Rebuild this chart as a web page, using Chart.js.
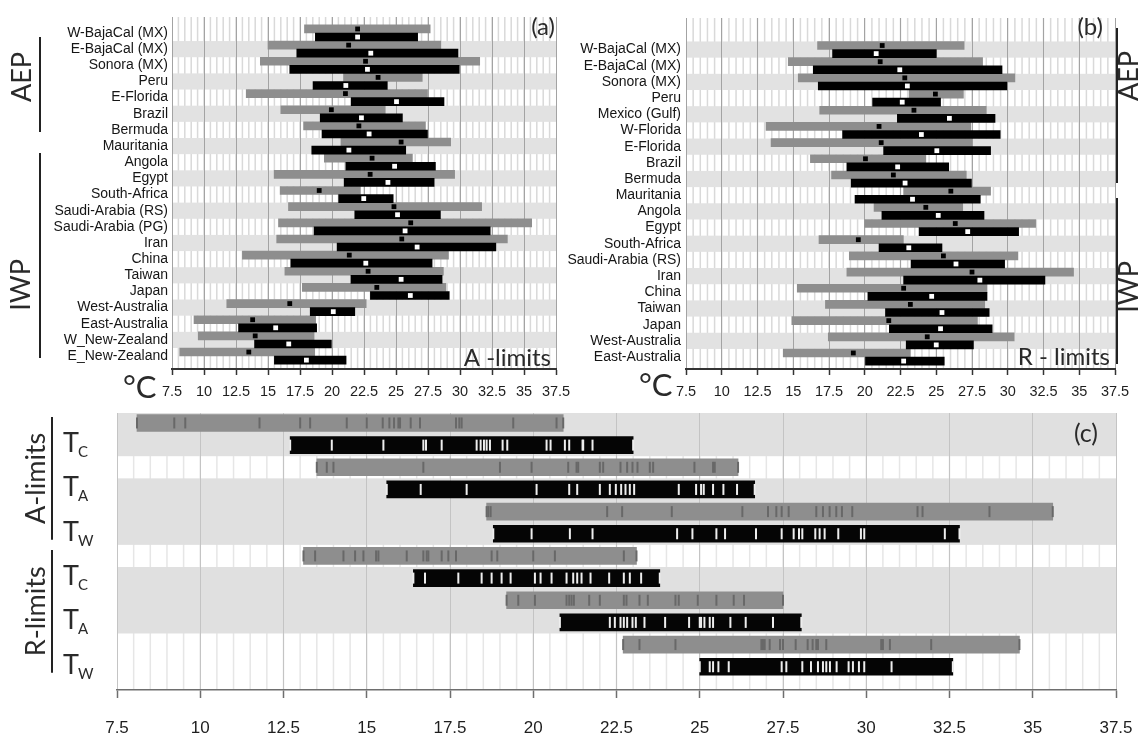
<!DOCTYPE html>
<html>
<head>
<meta charset="utf-8">
<title>Temperature limits</title>
<script src="https://cdn.jsdelivr.net/npm/chart.js@4.4.1/dist/chart.umd.min.js"></script>
<style>
  html, body { margin: 0; padding: 0; background: #fff; }
  #wrap { position: relative; width: 1138px; height: 741px; overflow: hidden; background: #fff; }
  #wrap canvas { position: absolute; }
</style>
</head>
<body>
<div id="wrap">
  <canvas id="chartA" width="570" height="405" style="left:0;top:0"></canvas>
  <canvas id="chartB" width="618" height="405" style="left:520px;top:0"></canvas>
  <canvas id="chartC" width="1138" height="336" style="left:0;top:405px"></canvas>
</div>
<script>
// --- 1. DATA: panel (a), A-limits per region (deg C) ---
const regionsA = ['W-BajaCal (MX)', 'E-BajaCal (MX)', 'Sonora (MX)', 'Peru', 'E-Florida', 'Brazil', 'Bermuda',
  'Mauritania', 'Angola', 'Egypt', 'South-Africa', 'Saudi-Arabia (RS)', 'Saudi-Arabia (PG)', 'Iran', 'China',
  'Taiwan', 'Japan', 'West-Australia', 'East-Australia', 'W_New-Zealand', 'E_New-Zealand'];
const grayLoA    = [17.85, 15.0, 14.4, 20.9, 13.3, 16.0, 17.78, 20.7, 19.4, 15.48, 15.95, 16.6, 15.82, 15.68, 13.0, 16.32, 17.68, 11.78, 9.22, 9.55, 8.1];
const grayHiA    = [27.67, 28.5, 31.54, 27.05, 27.46, 24.16, 27.3, 29.27, 26.28, 29.58, 22.22, 31.69, 35.6, 33.7, 29.1, 28.7, 28.9, 22.67, 18.72, 18.6, 18.65];
const grayMarkA  = [22.0, 21.3, 22.62, 23.6, 21.05, 19.95, 22.1, 25.4, 23.13, 22.98, 19.0, 24.84, 26.15, 25.45, 21.35, 22.82, 23.5, 16.7, 13.8, 14.0, 13.5];
const blackLoA   = [18.7, 17.25, 16.7, 18.52, 21.5, 19.08, 19.22, 18.42, 21.08, 20.95, 20.52, 21.78, 18.6, 20.4, 16.78, 21.48, 23.0, 18.3, 12.7, 13.95, 15.5];
const blackHiA   = [26.69, 29.84, 29.94, 24.32, 28.75, 25.5, 27.46, 25.76, 28.08, 27.98, 24.78, 28.47, 32.36, 32.8, 27.82, 28.6, 29.16, 21.78, 18.8, 19.95, 21.1];
const whiteMarkA = [22.0, 23.03, 22.77, 21.08, 25.04, 22.3, 22.9, 21.32, 24.89, 24.37, 22.48, 25.12, 25.71, 26.65, 22.64, 25.4, 26.12, 20.1, 15.6, 16.62, 18.0];

// --- 2. DATA: panel (b), R-limits per region (deg C) ---
const regionsB = ['W-BajaCal (MX)', 'E-BajaCal (MX)', 'Sonora (MX)', 'Peru', 'Mexico (Gulf)', 'W-Florida', 'E-Florida',
  'Brazil', 'Bermuda', 'Mauritania', 'Angola', 'Egypt', 'South-Africa', 'Saudi-Arabia (RS)', 'Iran', 'China',
  'Taiwan', 'Japan', 'West-Australia', 'East-Australia'];
const grayLoB    = [16.7, 14.65, 15.35, 23.1, 16.85, 13.1, 13.45, 16.2, 17.68, 22.72, 20.65, 20.0, 16.8, 18.92, 18.75, 15.28, 17.25, 14.9, 17.45, 14.3];
const grayHiB    = [26.95, 28.24, 30.5, 26.9, 28.5, 27.41, 27.5, 24.27, 27.1, 28.8, 26.85, 31.95, 22.7, 30.71, 34.6, 28.55, 28.39, 27.88, 30.45, 23.19];
const grayMarkB  = [21.22, 21.08, 22.8, 24.94, 23.44, 21.0, 21.15, 20.05, 22.0, 26.02, 24.27, 26.33, 19.55, 25.5, 27.5, 22.72, 23.19, 21.68, 24.37, 19.2];
const blackLoB   = [17.75, 16.4, 16.75, 20.55, 22.28, 18.45, 21.32, 18.75, 19.05, 19.32, 21.2, 23.8, 21.0, 23.24, 22.72, 20.22, 21.45, 21.72, 22.9, 20.05];
const blackHiB   = [25.0, 29.6, 29.94, 25.3, 29.11, 29.47, 28.8, 25.87, 27.46, 28.08, 28.34, 30.76, 25.4, 29.78, 32.6, 28.55, 28.7, 28.91, 27.6, 25.56];
const whiteMarkB = [20.8, 22.45, 22.98, 22.62, 25.92, 23.96, 25.04, 22.3, 22.82, 23.34, 25.14, 27.2, 23.08, 26.38, 28.05, 24.68, 25.4, 25.3, 25.0, 22.72];

// --- 3. DATA: axes ---
const tempTicks = [7.5, 10, 12.5, 15, 17.5, 20, 22.5, 25, 27.5, 30, 32.5, 35, 37.5];
const limitSets = ['A-limits', 'R-limits'];
const limitVars = ['C', 'A', 'W'];

// panel (c): per limit set, TC / TA / TW as gray (range) and black (core) rows
const limitRows = [grayLoA, blackLoA, grayMarkA, whiteMarkA, grayHiA, blackHiA,
                   grayLoB, blackLoB, grayMarkB, whiteMarkB, grayHiB, blackHiB];

// --- 4. HELPERS ---
const NARROW = "'Liberation Sans Narrow', 'Arial Narrow', 'Liberation Sans', sans-serif";
const SANS = "'Liberation Sans', Arial, sans-serif";
const SOFT = "Lato, 'Open Sans', sans-serif";
const GRAY = '#8e8e8e';

const rowBars = (lo, hi, off) => lo.map((v, i) => ({ x: [v, hi[i]], y: i + off }));
const rowPts = (vals, off) => vals.map((v, i) => ({ x: v, y: i + off }));

function text(ctx, s, x, y, size, align, rot) {
  ctx.save();
  ctx.translate(x, y);
  if (rot) ctx.rotate(rot);
  ctx.font = size + 'px ' + SOFT;
  ctx.fillStyle = '#2a2a2a';
  ctx.textAlign = align || 'left';
  ctx.textBaseline = rot ? 'middle' : 'alphabetic';
  ctx.fillText(s, 0, 0);
  ctx.restore();
}
function vline(ctx, x, y0, y1) {
  ctx.save();
  ctx.strokeStyle = '#222';
  ctx.lineWidth = 2;
  ctx.beginPath(); ctx.moveTo(x, y0); ctx.lineTo(x, y1); ctx.stroke();
  ctx.restore();
}

// light bands + half-degree hatch behind the grid
function makeBackdrop(bands, hatch, bandColor) {
  return {
    id: 'backdrop',
    beforeDraw(chart) {
      const { ctx, chartArea: a, scales: { x, y } } = chart;
      ctx.save();
      ctx.beginPath(); ctx.rect(a.left, a.top, a.right - a.left, a.bottom - a.top); ctx.clip();
      ctx.strokeStyle = hatch; ctx.lineWidth = 1.5;
      for (let v = x.min + 0.5; v < x.max; v += 0.5) {
        const px = x.getPixelForValue(v);
        ctx.beginPath(); ctx.moveTo(px, a.top); ctx.lineTo(px, a.bottom); ctx.stroke();
      }
      ctx.fillStyle = bandColor;
      bands.forEach(([from, to]) => {
        const y0 = y.getPixelForValue(from), y1 = y.getPixelForValue(to);
        ctx.fillRect(a.left, y0, a.right - a.left, y1 - y0);
      });
      ctx.restore();
    }
  };
}

function tempAxis(height, size, family, gridColor, tickLen, pad, borderColor, borderWidth) {
  return {
    type: 'linear', offset: false, min: tempTicks[0], max: tempTicks[tempTicks.length - 1],
    afterBuildTicks: s => { s.ticks = tempTicks.map(v => ({ value: v })); },
    // end labels may overhang the plot; keep the plot edges where the layout puts them
    afterFit: s => { s.height = height; s.paddingLeft = 0; s.paddingRight = 0; },
    ticks: { autoSkip: false, maxRotation: 0, padding: pad, color: '#1e1e1e',
             font: { family, size }, callback: v => String(v) },
    grid: { offset: false, color: gridColor, lineWidth: 1, tickColor: borderColor, tickLength: tickLen, tickWidth: 1.5 },
    border: { color: borderColor, width: borderWidth }
  };
}

function rowAxis(names, min, max, width, pad) {
  return {
    type: 'linear', offset: false, reverse: true, min, max,
    afterBuildTicks: s => { s.ticks = names.map((n, i) => ({ value: i })); },
    afterFit: s => { s.width = width; s.paddingTop = 0; s.paddingBottom = 0; },
    ticks: { display: names.length > 0, autoSkip: false, padding: pad, color: '#151515',
             font: { family: SANS, size: 14 }, callback: v => names[v] || '' },
    grid: { display: false, drawTicks: false, offset: false },
    border: { display: false }
  };
}

function rangeChart(id, names, d, layout, yMin, yMax, oddGray, notes) {
  const bands = names.map((n, i) => i).filter(i => (i % 2 === 1) === oddGray).map(i => [i - 0.5, i + 0.5]);
  return new Chart(document.getElementById(id), {
    type: 'bar',
    data: {
      datasets: [
        { type: 'scatter', data: rowPts(d.gMark, -0.25), pointStyle: 'rect', pointRadius: 3.4,
          backgroundColor: '#000', borderWidth: 0, order: 0 },
        { type: 'scatter', data: rowPts(d.wMark, 0.25), pointStyle: 'rect', pointRadius: 3.4,
          backgroundColor: '#fff', borderWidth: 0, order: 0 },
        { type: 'bar', indexAxis: 'y', grouped: false, barThickness: 8, data: rowBars(d.bLo, d.bHi, 0.25),
          backgroundColor: '#000', order: 1 },
        { type: 'bar', indexAxis: 'y', grouped: false, barThickness: 8, data: rowBars(d.gLo, d.gHi, -0.25),
          backgroundColor: GRAY, order: 2 }
      ]
    },
    options: {
      responsive: false, animation: false, events: [], devicePixelRatio: 1,
      layout: { padding: layout.padding },
      plugins: { legend: { display: false }, tooltip: { enabled: false } },
      scales: {
        x: tempAxis(layout.xHeight, 14.5, NARROW, '#a3a3a3', 6, 8, '#333', 2),
        y: rowAxis(names, yMin, yMax, layout.yWidth, layout.labelPad)
      }
    },
    plugins: [makeBackdrop(bands, '#d9d9d9', '#e2e2e2'), { id: 'notes', afterDraw: notes }]
  });
}

// --- 5. PANEL (a) ---
rangeChart('chartA', regionsA,
  { gLo: grayLoA, gHi: grayHiA, gMark: grayMarkA, bLo: blackLoA, bHi: blackHiA, wMark: whiteMarkA },
  { padding: { top: 17, right: 14, left: 0, bottom: 0 }, xHeight: 36, yWidth: 172, labelPad: 4 },
  -0.99, 20.8, true,
  chart => {
    const ctx = chart.ctx;
    vline(ctx, 40, 37, 132);
    vline(ctx, 40, 153, 358);
    text(ctx, 'AEP', 22, 77, 27, 'center', -Math.PI / 2);
    text(ctx, 'IWP', 21, 285, 27, 'center', -Math.PI / 2);
    text(ctx, '(a)', 555, 35, 24, 'right');
    text(ctx, 'A -limits', 551, 366, 24, 'right');
    text(ctx, '\u00B0C', 123, 398, 31, 'left');
  });

// --- 6. PANEL (b) ---
rangeChart('chartB', regionsB,
  { gLo: grayLoB, gHi: grayHiB, gMark: grayMarkB, bLo: blackLoB, bHi: blackHiB, wMark: whiteMarkB },
  { padding: { top: 18, right: 23, left: 0, bottom: 0 }, xHeight: 36, yWidth: 166, labelPad: 5 },
  -1.95, 19.74, false,
  chart => {
    const ctx = chart.ctx;
    vline(ctx, 597, 28, 183);
    vline(ctx, 597, 198, 364);
    text(ctx, 'AEP', 609, 76, 27, 'center', -Math.PI / 2);
    text(ctx, 'IWP', 609, 287, 27, 'center', -Math.PI / 2);
    text(ctx, '(b)', 583, 35, 24, 'right');
    text(ctx, 'R - limits', 590, 365, 24, 'right');
    text(ctx, '\u00B0C', 119, 396, 31, 'left');
  });

// --- 7. PANEL (c) ---
const rangeBars = limitRows.map((vals, r) => ({ x: [Math.min(...vals), Math.max(...vals)], y: r }));
const tickPts = limitRows.map((vals, r) => vals.map(v => ({ x: v, y: r })));
const cBands = [0, 2, 4].map(p => [2 * p - 1.5, 2 * p + 1.5]);

new Chart(document.getElementById('chartC'), {
  type: 'bar',
  data: {
    datasets: [
      { type: 'scatter', data: tickPts.filter((t, r) => r % 2 === 0).flat(), pointStyle: 'line', rotation: 90,
        pointRadius: 5.5, borderColor: '#686868', borderWidth: 2, order: 0 },
      { type: 'scatter', data: tickPts.filter((t, r) => r % 2 === 1).flat(), pointStyle: 'line', rotation: 90,
        pointRadius: 5.5, borderColor: '#eeeeee', borderWidth: 2, order: 0 },
      { type: 'bar', indexAxis: 'y', grouped: false, barThickness: 17,
        data: rangeBars.filter((b, r) => r % 2 === 1), backgroundColor: '#050505', order: 1 },
      { type: 'bar', indexAxis: 'y', grouped: false, barThickness: 17,
        data: rangeBars.filter((b, r) => r % 2 === 0), backgroundColor: GRAY, order: 2 }
    ]
  },
  options: {
    responsive: false, animation: false, events: [], devicePixelRatio: 1,
    layout: { padding: { top: 8, right: 22, left: 0, bottom: 0 } },
    plugins: { legend: { display: false }, tooltip: { enabled: false } },
    scales: {
      x: tempAxis(51, 17, SANS, '#c4c4c4', 8, 20, '#6e6e6e', 1.5),
      y: rowAxis([], -0.45, 12.05, 117, 0)
    }
  },
  plugins: [makeBackdrop(cBands, '#e6e6e6', '#e0e0e0'), {
    id: 'notes',
    afterDraw(chart) {
      const ctx = chart.ctx, y = chart.scales.y;
      limitSets.forEach((name, g) => {
        const top = y.getPixelForValue(g * 6) - 6, bot = y.getPixelForValue(g * 6 + 5) + 6;
        vline(ctx, 52, top, bot);
        text(ctx, name, 36, (top + bot) / 2, 27, 'center', -Math.PI / 2);
        limitVars.forEach((v, k) => {
          const py = y.getPixelForValue(g * 6 + k * 2 + 1);
          text(ctx, 'T', 63, py + 7, 27, 'left');
          text(ctx, v, 78, py + 12, 15, 'left');
        });
      });
      text(ctx, '(c)', 1098, 37, 25, 'right');
    }
  }]
});
</script>
</body>
</html>
